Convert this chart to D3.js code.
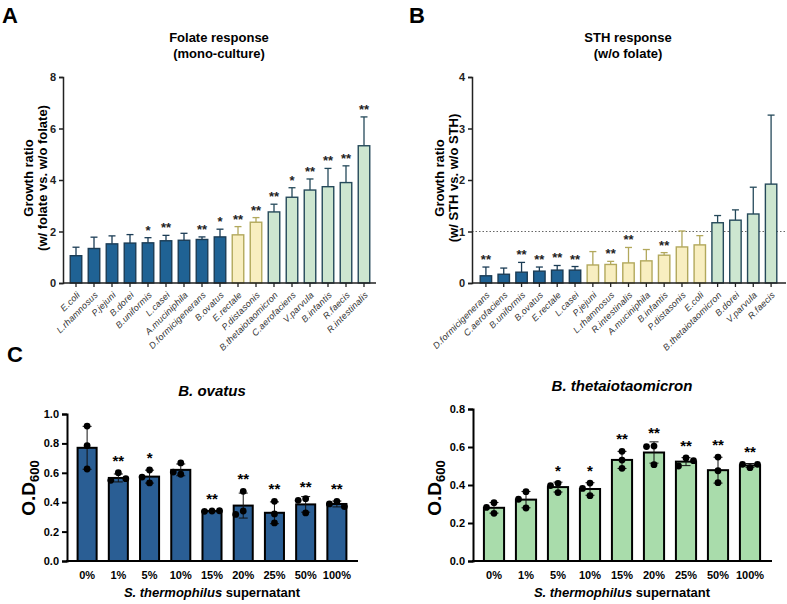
<!DOCTYPE html>
<html>
<head>
<meta charset="utf-8">
<script src="https://cdn.jsdelivr.net/npm/d3@7.9.0/dist/d3.min.js"></script>
<style>
  body { margin: 0; background: #fff; }
  svg { display: block; font-family: Arial, "Liberation Sans", sans-serif; }
  .tick text { font-weight: bold; }
</style>
</head>
<body>
<svg id="fig" width="787" height="604"></svg>
<script>
// ---- panel A: folate response (mono-culture)
const aNames = ['E.coli', 'L.rhamnosus', 'P.jejuni', 'B.dorei', 'B.uniformis', 'L.casei',
  'A.muciniphila', 'D.formicigenerans', 'B.ovatus', 'E.rectale', 'P.distasonis',
  'B.thetaiotaomicron', 'C.aerofaciens', 'V.parvula', 'B.infantis', 'R.faecis', 'R.intestinalis'];
const aValues = [1.06, 1.34, 1.52, 1.55, 1.56, 1.64, 1.66, 1.69, 1.79, 1.87, 2.36, 2.76, 3.33, 3.61, 3.74, 3.90, 5.33];
const aErrTop = [1.39, 1.78, 1.83, 1.88, 1.76, 1.85, 1.93, 1.79, 2.09, 2.19, 2.54, 3.06, 3.70, 4.04, 4.45, 4.55, 6.45];
const aSig = ['', '', '', '', '*', '**', '', '**', '*', '**', '**', '**', '*', '**', '**', '**', '**'];
const aGroup = ['b', 'b', 'b', 'b', 'b', 'b', 'b', 'b', 'b', 'y', 'y', 'g', 'g', 'g', 'g', 'g', 'g'];
const aTicks = [0, 2, 4, 6, 8];

// ---- panel B: STH response (w/o folate)
const bNames = ['D.formicigenerans', 'C.aerofaciens', 'B.uniformis', 'B.ovatus', 'E.rectale', 'L.casei',
  'P.jejuni', 'L.rhamnosus', 'R.intestinalis', 'A.muciniphila', 'B.infantis', 'P.distasonis',
  'E.coli', 'B.thetaiotaomicron', 'B.dorei', 'V.parvula', 'R.faecis'];
const bValues = [0.14, 0.17, 0.21, 0.23, 0.25, 0.25, 0.35, 0.36, 0.39, 0.43, 0.54, 0.70, 0.74, 1.17, 1.22, 1.34, 1.92];
const bErrTop = [0.31, 0.29, 0.40, 0.31, 0.34, 0.32, 0.61, 0.42, 0.69, 0.65, 0.59, 1.01, 0.92, 1.31, 1.42, 1.86, 3.26];
const bSig = ['**', '', '**', '**', '**', '**', '', '**', '**', '', '**', '', '', '', '', '', ''];
const bGroup = ['b', 'b', 'b', 'b', 'b', 'b', 'y', 'y', 'y', 'y', 'y', 'y', 'y', 'g', 'g', 'g', 'g'];
const bTicks = [0, 1, 2, 3, 4];
const bReference = 1;

// ---- panel C: dose response to S. thermophilus supernatant
const cDoses = ['0%', '1%', '5%', '10%', '15%', '20%', '25%', '50%', '100%'];
const ovatusMean = [0.770, 0.565, 0.574, 0.620, 0.340, 0.377, 0.328, 0.385, 0.388];
const ovatusSd = [0.146, 0.027, 0.044, 0.040, 0.004, 0.085, 0.074, 0.053, 0.020];
const ovatusPts = [[0.918, 0.785, 0.626], [0.601, 0.549, 0.560], [0.619, 0.531, 0.571],
  [0.667, 0.590, 0.605], [0.340, 0.338, 0.342], [0.474, 0.340, 0.317], [0.406, 0.320, 0.259],
  [0.424, 0.413, 0.327], [0.406, 0.388, 0.370]];
const ovatusSig = ['', '**', '*', '', '**', '**', '**', '**', '**'];
const thetaMean = [0.280, 0.323, 0.389, 0.379, 0.532, 0.571, 0.523, 0.478, 0.503];
const thetaSd = [0.028, 0.043, 0.026, 0.033, 0.045, 0.056, 0.021, 0.068, 0.010];
const thetaPts = [[0.307, 0.251, 0.282], [0.365, 0.279, 0.325], [0.409, 0.360, 0.397],
  [0.410, 0.344, 0.382], [0.577, 0.488, 0.531], [0.605, 0.602, 0.507], [0.542, 0.500, 0.528],
  [0.547, 0.475, 0.412], [0.491, 0.509, 0.509]];
const thetaSig = ['', '', '*', '*', '**', '**', '**', '**', '**'];

const svg = d3.select('#fig');
svg.append('rect').attr('width', 787).attr('height', 604).attr('fill', '#fff');

const fills = { b: '#1f6294', y: '#f8eec0', g: '#cde6d0' };
const strokes = { b: '#1b3c55', y: '#b2a85c', g: '#25495a' };

function panelLetter(txt, x, y) {
  svg.append('text').attr('x', x).attr('y', y).text(txt)
    .attr('font-size', 22).attr('font-weight', 'bold');
}

// bar chart with upward error bars (panels A and B)
function ratioChart(opt) {
  const { names, values, errTop, sig, group, ticks, x0, x1, plotLeft, axisEnd } = opt;
  const g = svg.append('g');
  const y = d3.scaleLinear().domain([0, ticks[ticks.length - 1]]).range([283, 77]);
  const x = d3.scaleBand().domain(names).range([x0, x1]).paddingInner(0.36).paddingOuter(0.18);

  if (opt.reference != null) {
    g.append('line').attr('x1', plotLeft).attr('x2', axisEnd)
      .attr('y1', y(opt.reference)).attr('y2', y(opt.reference))
      .attr('stroke', '#666').attr('stroke-width', 1).attr('stroke-dasharray', '1.5,2');
  }

  names.forEach((n, i) => {
    const cx = x(n) + x.bandwidth() / 2;
    g.append('line').attr('x1', cx).attr('x2', cx).attr('y1', y(values[i])).attr('y2', y(errTop[i]))
      .attr('stroke', strokes[group[i]]).attr('stroke-width', 1.3);
    g.append('line').attr('x1', cx - 3.5).attr('x2', cx + 3.5).attr('y1', y(errTop[i])).attr('y2', y(errTop[i]))
      .attr('stroke', strokes[group[i]]).attr('stroke-width', 1.3);
    g.append('rect').attr('x', x(n)).attr('y', y(values[i]))
      .attr('width', x.bandwidth()).attr('height', y(0) - y(values[i]))
      .attr('fill', fills[group[i]]).attr('stroke', strokes[group[i]]).attr('stroke-width', 1.4);
    if (sig[i]) {
      g.append('text').attr('x', cx).attr('y', y(errTop[i]) - 3).attr('text-anchor', 'middle')
        .attr('font-size', 13).attr('font-weight', 'bold').attr('fill', '#222').text(sig[i]);
    }
  });

  const yAxis = g.append('g').attr('transform', `translate(${plotLeft},0)`)
    .call(d3.axisLeft(y).tickValues(ticks).tickSize(4).tickFormat(d3.format('d')));
  yAxis.selectAll('text').attr('font-size', 11).attr('fill', '#222');
  yAxis.select('.domain').attr('stroke', '#222').attr('stroke-width', 1.5);
  yAxis.selectAll('.tick line').attr('stroke', '#222').attr('stroke-width', 1.5);

  const xAxis = g.append('g').attr('transform', 'translate(0,283)');
  xAxis.append('line').attr('x1', plotLeft).attr('x2', axisEnd).attr('stroke', '#222').attr('stroke-width', 1.5);
  names.forEach((n) => {
    const cx = x(n) + x.bandwidth() / 2;
    xAxis.append('line').attr('x1', cx).attr('x2', cx).attr('y1', 0).attr('y2', 4)
      .attr('stroke', '#222').attr('stroke-width', 1.3);
    xAxis.append('text').attr('transform', `translate(${cx},8) rotate(-45)`)
      .attr('text-anchor', 'end').attr('dy', '0.71em').attr('letter-spacing', 0.2)
      .attr('font-size', 9).attr('font-style', 'italic').attr('fill', '#333').text(n);
  });

  // titles
  opt.title.forEach((t, i) => {
    svg.append('text').attr('x', opt.titleX).attr('y', 42 + i * 16).attr('text-anchor', 'middle')
      .attr('font-size', 13).attr('font-weight', 'bold').text(t);
  });
  opt.yTitle.forEach((t, i) => {
    svg.append('text').attr('transform', `translate(${opt.yTitleX + i * 14},178) rotate(-90)`)
      .attr('text-anchor', 'middle').attr('font-size', 13).attr('font-weight', 'bold').text(t);
  });
}

ratioChart({
  names: aNames, values: aValues, errTop: aErrTop, sig: aSig, group: aGroup, ticks: aTicks,
  x0: 67, x1: 373, plotLeft: 63, axisEnd: 376,
  title: ['Folate response', '(mono-culture)'], titleX: 219,
  yTitle: ['Growth ratio', '(w/ folate vs. w/o folate)'], yTitleX: 33
});
ratioChart({
  names: bNames, values: bValues, errTop: bErrTop, sig: bSig, group: bGroup, ticks: bTicks,
  x0: 477, x1: 780, plotLeft: 472, axisEnd: 786, reference: bReference,
  title: ['STH response', '(w/o folate)'], titleX: 628,
  yTitle: ['Growth ratio', '(w/ STH vs. w/o STH)'], yTitleX: 444
});

// dose-response bar chart with replicate dots (panel C)
function doseChart(opt) {
  const { mean, sd, pts, sig, yMax, yStep, fill, plotLeft, axisEnd, x0, x1, yTop } = opt;
  const g = svg.append('g');
  const y = d3.scaleLinear().domain([0, yMax]).range([561, yTop]);
  const x = d3.scaleBand().domain(cDoses).range([x0, x1]).paddingInner(opt.pad).paddingOuter(opt.pad / 2);
  const r = 3.4;

  cDoses.forEach((d, i) => {
    const cx = x(d) + x.bandwidth() / 2;
    g.append('rect').attr('x', x(d)).attr('y', y(mean[i]))
      .attr('width', x.bandwidth()).attr('height', y(0) - y(mean[i]))
      .attr('fill', fill).attr('stroke', '#000').attr('stroke-width', 2);
    const lo = y(mean[i] - sd[i]), hi = y(mean[i] + sd[i]);
    g.append('line').attr('x1', cx).attr('x2', cx).attr('y1', lo).attr('y2', hi).attr('stroke', '#111').attr('stroke-width', 1);
    [lo, hi].forEach((yy) => g.append('line').attr('x1', cx - 4.5).attr('x2', cx + 4.5)
      .attr('y1', yy).attr('y2', yy).attr('stroke', '#111').attr('stroke-width', 1));

    // simple swarm: push overlapping dots sideways
    const placed = [];
    pts[i].forEach((v) => {
      const py = y(v);
      const slots = [0, -1, 1, -2, 2];
      let s = slots.find((k) => !placed.some((p) => p.k === k && Math.abs(p.py - py) < 2 * r + 1.2));
      placed.push({ k: s, py });
      g.append('circle').attr('cx', cx + s * 7.5).attr('cy', py).attr('r', r).attr('fill', '#000');
    });

    if (sig[i]) {
      const top = Math.min(hi, d3.min(placed, (p) => p.py) - r);
      g.append('text').attr('x', cx).attr('y', top - 3.5).attr('text-anchor', 'middle')
        .attr('font-size', 15).attr('font-weight', 'bold').text(sig[i]);
    }
  });

  const yAxis = g.append('g').attr('transform', `translate(${plotLeft},0)`)
    .call(d3.axisLeft(y).tickValues(d3.range(0, yMax + 1e-9, yStep)).tickSize(5).tickFormat(d3.format('.1f')));
  yAxis.selectAll('text').attr('font-size', 11).attr('fill', '#000');
  yAxis.select('.domain').attr('stroke', '#000').attr('stroke-width', 2);
  yAxis.selectAll('.tick line').attr('stroke', '#000').attr('stroke-width', 2);

  const xAxis = g.append('g').attr('transform', 'translate(0,561)');
  xAxis.append('line').attr('x1', plotLeft - 1).attr('x2', axisEnd).attr('stroke', '#000').attr('stroke-width', 2);
  cDoses.forEach((d) => {
    xAxis.append('text').attr('x', x(d) + x.bandwidth() / 2).attr('y', 18).attr('text-anchor', 'middle')
      .attr('font-size', 11).attr('font-weight', 'bold').text(d);
  });

  svg.append('text').attr('x', opt.midX).attr('y', opt.titleY).attr('text-anchor', 'middle')
    .attr('font-size', 15).attr('font-weight', 'bold').attr('font-style', 'italic').text(opt.title);

  const xt = svg.append('text').attr('x', opt.midX).attr('y', 597).attr('text-anchor', 'middle')
    .attr('font-size', 13).attr('font-weight', 'bold');
  xt.append('tspan').attr('font-style', 'italic').text('S. thermophilus');
  xt.append('tspan').text(' supernatant');

  const yt = svg.append('text').attr('transform', `translate(${opt.yTitleX},488) rotate(-90)`)
    .attr('text-anchor', 'middle').attr('font-size', 19).attr('font-weight', 'bold');
  yt.append('tspan').text('O.D');
  yt.append('tspan').attr('font-size', 13).attr('dy', 4).text('600');
}

doseChart({
  mean: ovatusMean, sd: ovatusSd, pts: ovatusPts, sig: ovatusSig, yMax: 1.0, yStep: 0.2, yTop: 414,
  fill: '#2a5e94', plotLeft: 67, axisEnd: 358, x0: 71.5, x1: 352.5, pad: 0.39,
  title: 'B. ovatus', titleY: 396, midX: 212, yTitleX: 35
});
doseChart({
  mean: thetaMean, sd: thetaSd, pts: thetaPts, sig: thetaSig, yMax: 0.8, yStep: 0.2, yTop: 409,
  fill: '#a9dcab', plotLeft: 473, axisEnd: 772, x0: 478, x1: 766, pad: 0.37,
  title: 'B. thetaiotaomicron', titleY: 391, midX: 622, yTitleX: 441
});

panelLetter('A', 2, 23);
panelLetter('B', 409, 23);
panelLetter('C', 7, 362);
</script>
</body>
</html>
